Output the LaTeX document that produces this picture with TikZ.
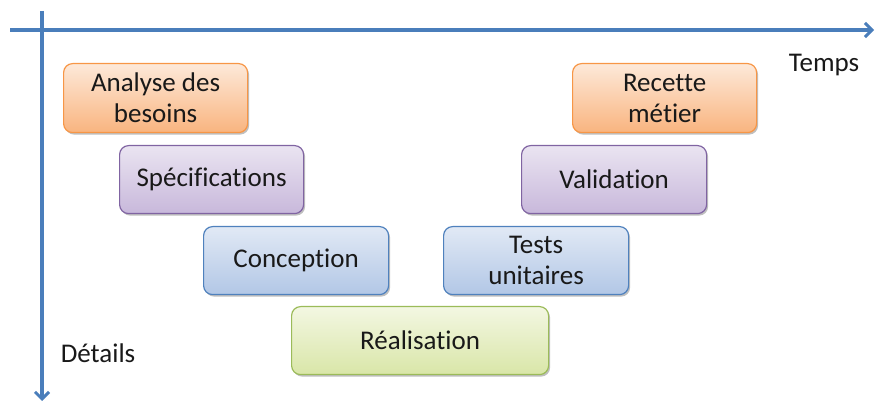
\documentclass[tikz,border=0pt]{standalone}
\usepackage{fontspec}
\setmainfont{Carlito}[Ligatures=NoCommon]
\usetikzlibrary{arrows.meta,shadows}
\definecolor{axisblue}{HTML}{4A7EBB}
\definecolor{orB}{HTML}{F79646}\definecolor{orT}{HTML}{FDE9D9}\definecolor{orD}{HTML}{F9B47F}
\definecolor{puB}{HTML}{8064A2}\definecolor{puT}{HTML}{EAE4F1}\definecolor{puD}{HTML}{C8B8DB}
\definecolor{blB}{HTML}{4F81BD}\definecolor{blT}{HTML}{E1E9F5}\definecolor{blD}{HTML}{B2C7E6}
\definecolor{grB}{HTML}{9BBB59}\definecolor{grT}{HTML}{F3F7E2}\definecolor{grD}{HTML}{D9E6A8}
\tikzset{
  phase/.style={draw, line width=1.2pt, rounded corners=9pt, align=center, anchor=north west,
    inner sep=0pt, font=\fontsize{27}{31}\selectfont, text=black!90,
    drop shadow={shadow xshift=1.5pt, shadow yshift=-2pt, opacity=0.25, fill=black}},
  orangebox/.style={phase, draw=orB, top color=orT, bottom color=orD},
  purplebox/.style={phase, draw=puB, top color=puT, bottom color=puD},
  bluebox/.style={phase, draw=blB, top color=blT, bottom color=blD},
  greenbox/.style={phase, draw=grB, top color=grT, bottom color=grD},
  axis/.style={draw=axisblue, line width=3.5pt, -{Straight Barb[length=7pt,width=14pt,line width=3pt]}},
  lbl/.style={font=\fontsize{27}{31}\selectfont, text=black!90}
}
\begin{document}
\begin{tikzpicture}[x=1pt,y=-1pt]
\useasboundingbox (0,0) rectangle (876,403);
\coordinate (hs) at (10,30);
\coordinate (he) at (874,30);
\coordinate (vs) at (42,11);
\coordinate (ve) at (42,401);
\draw[axis] (hs) -- (he);
\draw[axis] (vs) -- (ve);
\node[orangebox, minimum width=184pt, minimum height=69pt] (ab) at (63,63) {Analyse des\\besoins};
\node[purplebox, minimum width=184pt, minimum height=68pt] (sp) at (119,145) {Spécifications};
\node[bluebox, minimum width=185pt, minimum height=68pt] (co) at (203,226) {Conception};
\node[greenbox, minimum width=257pt, minimum height=68pt] (re) at (291,306) {Réalisation};
\node[bluebox, minimum width=185pt, minimum height=68pt] (tu) at (443,226) {Tests\\unitaires};
\node[purplebox, minimum width=185pt, minimum height=68pt] (va) at (521,145) {Validation};
\node[orangebox, minimum width=184pt, minimum height=69pt] (rm) at (572,63) {Recette\\métier};
\node[lbl] (tp) at (824,65) {Temps};
\node[lbl] (dt) at (98,353) {Détails};
\end{tikzpicture}
\end{document}
